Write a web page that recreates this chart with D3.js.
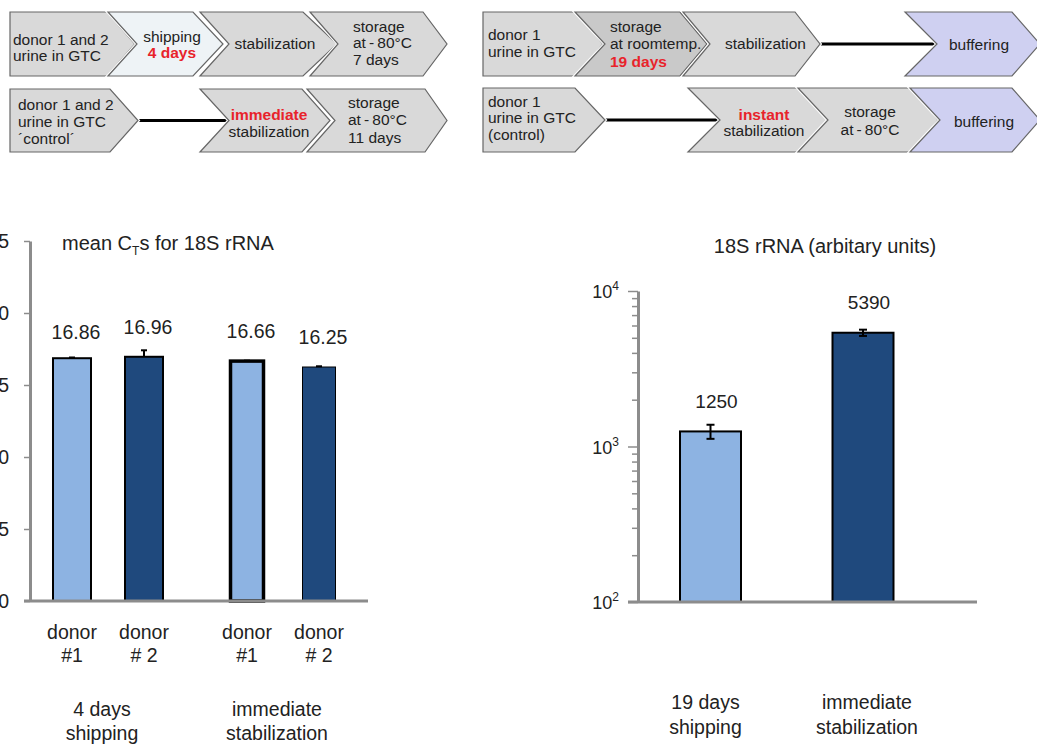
<!DOCTYPE html>
<html><head><meta charset="utf-8">
<script src="https://cdn.jsdelivr.net/npm/d3@7"></script>
<style>
body{margin:0;background:#fff;}
svg{display:block;font-family:"Liberation Sans",Arial,sans-serif;}
</style>
</head><body>
<svg id="c" width="1037" height="744"></svg>
<script>
// ================= DATA =================
// Left chart: mean Ct for 18S rRNA
const ctGroups = ["4 days shipping", "immediate stabilization"];
const ctGroupLines = [["4 days", "shipping"], ["immediate", "stabilization"]];
const ctDonors = ["donor #1", "donor # 2"];
const ctDonorLines = [["donor", "#1"], ["donor", "# 2"]];
const ctValues = [[16.86, 16.96], [16.66, 16.25]];
const ctErrors = [[0.05, 0.45], [0.03, 0.05]];
const ctTicks = [0, 5, 10, 15, 20, 25];
const ctTitle = ["mean C", "T", "s for 18S rRNA"];

// Right chart: 18S rRNA (arbitrary units), log scale
const rnaCategories = ["19 days shipping", "immediate stabilization"];
const rnaCategoryLines = [["19 days", "shipping"], ["immediate", "stabilization"]];
const rnaValues = [1250, 5390];
const rnaErrors = [130, 250];
const rnaTickExponents = [2, 3, 4];
const rnaTitle = "18S rRNA (arbitary units)";

// Flow diagram texts (each line: [text, isRed])
const flowTexts = [
  [ [["donor 1 and 2",0],["urine in GTC",0]],
    [["shipping",0],["4 days",1]],
    [["stabilization",0]],
    [["storage",0],["at\u2009-\u200980°C",0],["7 days",0]] ],
  [ [["donor 1 and 2",0],["urine in GTC",0],["´control´",0]],
    [["immediate",1],["stabilization",0]],
    [["storage",0],["at\u2009-\u200980°C",0],["11 days",0]] ],
  [ [["donor 1",0],["urine in GTC",0]],
    [["storage",0],["at roomtemp.",0],["19 days",1]],
    [["stabilization",0]],
    [["buffering",0]] ],
  [ [["donor 1",0],["urine in GTC",0],["(control)",0]],
    [["instant",1],["stabilization",0]],
    [["storage",0],["at\u2009-\u200980°C",0]],
    [["buffering",0]] ]
];

// ================= LAYOUT / STYLE =================
const GRAY = "#d9d9d9", SHIP = "#eef3f6", DARKG = "#c9c9c9", LAV = "#cfd0f1";
// chevron layout: [left, bodyRight, point, notchX or null, fill, textX, anchor, textYs]
const flowRowsLayout = [
  {top:12, bot:76, links:[], steps:[
    [10,107,135,null,GRAY,13,"start",[40,56]],
    [108,193,223,137,SHIP,172,"middle",[37,53]],
    [200,303,337,229,GRAY,275,"middle",[44]],
    [310,423,447,338,GRAY,353,"start",[27,43,60]] ]},
  {top:89, bot:152, links:[[138,229]], steps:[
    [10,110,138,null,GRAY,18,"start",[105,122,139]],
    [200,302,330,229,GRAY,269,"middle",[115,132]],
    [307,425,447,335,GRAY,348,"start",[103,120,138]] ]},
  {top:12, bot:76, links:[[820,937]], steps:[
    [483,577,603,null,GRAY,488,"start",[35,52]],
    [575,680,707,605,DARKG,610,"start",[27,44,62]],
    [683,795,820,710,GRAY,725,"start",[44]],
    [905,1012,1040,937,LAV,979,"middle",[45]] ]},
  {top:88, bot:152, links:[[605,720]], steps:[
    [483,575,605,null,GRAY,488,"start",[102,118,135]],
    [688,803,828,720,GRAY,764,"middle",[115,131]],
    [798,913,938,828,GRAY,870,"middle",[112,130]],
    [910,1012,1040,940,LAV,984,"middle",[122]] ]}
];

const svg = d3.select("#c");
const TXT = "#222";

// ================= FLOW DIAGRAM =================
flowRowsLayout.forEach((row, ri) => {
  const g = svg.append("g");
  const mid = (row.top + row.bot) / 2;
  row.links.forEach(l => {
    g.append("line").attr("x1", l[0]).attr("x2", l[1]).attr("y1", mid).attr("y2", mid)
      .attr("stroke", "#000").attr("stroke-width", 3);
  });
  row.steps.forEach((s, si) => {
    const [left, br, pt, notch, fill, tx, anchor, tys] = s;
    const pts = [[left,row.top],[br,row.top],[pt,mid],[br,row.bot],[left,row.bot]];
    if (notch !== null) pts.push([notch, mid]);
    g.append("polygon").attr("points", pts.map(p => p.join(",")).join(" "))
      .attr("fill", fill).attr("stroke", "#fff").attr("stroke-width", 3.5).attr("stroke-linejoin","miter");
    g.append("polygon").attr("points", pts.map(p => p.join(",")).join(" "))
      .attr("fill", fill).attr("stroke", "#666").attr("stroke-width", 1.2);
    const lines = flowTexts[ri][si];
    lines.forEach((ln, li) => {
      g.append("text").attr("x", tx).attr("y", tys[li]).attr("dy", "0.35em")
        .attr("text-anchor", anchor)
        .attr("font-size", 15.5)
        .attr("font-weight", ln[1] ? "bold" : "normal")
        .attr("fill", ln[1] ? "#e8232b" : TXT)
        .text(ln[0]);
    });
  });
});

// ================= LEFT CHART =================
const AXG = "#8c8c8c";
const yCt = d3.scaleLinear().domain([0, 25]).range([601, 241]);
const xGroup = d3.scalePoint().domain(ctGroups).range([108, 283]);
const xDonor = d3.scalePoint().domain(ctDonors).range([-36, 36]);
const ctBarW = [38, 33];
const ctStroke = [[2, 2], [3.5, 1]];
const ctFill = ["#8db3e2", "#1f497d"];
const ctLabelGap = [[26, 30], [30, 30]];

const left = svg.append("g");
ctGroups.forEach((gname, gi) => {
  ctDonors.forEach((dname, di) => {
    const cx = xGroup(gname) + xDonor(dname);
    const v = ctValues[gi][di], e = ctErrors[gi][di];
    const w = ctBarW[gi];
    left.append("rect").attr("x", cx - w/2).attr("y", yCt(v)).attr("width", w)
      .attr("height", yCt(0) - yCt(v)).attr("fill", ctFill[di])
      .attr("stroke", "#000").attr("stroke-width", ctStroke[gi][di]);
    left.append("line").attr("x1", cx).attr("x2", cx).attr("y1", yCt(v + e)).attr("y2", yCt(v))
      .attr("stroke", "#000").attr("stroke-width", 2);
    left.append("line").attr("x1", cx - 3).attr("x2", cx + 3).attr("y1", yCt(v + e)).attr("y2", yCt(v + e))
      .attr("stroke", "#000").attr("stroke-width", 2);
    left.append("text").attr("x", cx + 4).attr("y", yCt(v) - ctLabelGap[gi][di]).attr("dy", "0.35em")
      .attr("text-anchor", "middle").attr("font-size", 19.5).attr("fill", TXT)
      .text(v.toFixed(2));
    ctDonorLines[di].forEach((t, li) => {
      left.append("text").attr("x", cx).attr("y", 632 + li * 23).attr("dy", "0.35em")
        .attr("text-anchor", "middle").attr("font-size", 19.5).attr("fill", TXT).text(t);
    });
  });
  ctGroupLines[gi].forEach((t, li) => {
    left.append("text").attr("x", xGroup(gname) - 6).attr("y", 709 + li * 24).attr("dy", "0.35em")
      .attr("text-anchor", "middle").attr("font-size", 19.5).attr("fill", TXT).text(t);
  });
});
const ctAxis = left.append("g").attr("transform", "translate(30,0)")
  .call(d3.axisLeft(yCt).tickValues(ctTicks).tickSize(6).tickSizeOuter(0).tickPadding(15));
ctAxis.select(".domain").attr("stroke", AXG).attr("stroke-width", 3);
ctAxis.selectAll(".tick line").attr("stroke", AXG).attr("stroke-width", 1.5);
ctAxis.selectAll(".tick text").attr("font-size", 19.5).attr("fill", TXT)
  .attr("font-family", "Liberation Sans, Arial, sans-serif");
left.append("line").attr("x1", 24).attr("x2", 368).attr("y1", yCt(0)).attr("y2", yCt(0))
  .attr("stroke", AXG).attr("stroke-width", 3);
const t1 = left.append("text").attr("x", 62).attr("y", 250).attr("font-size", 20).attr("fill", TXT);
t1.append("tspan").text(ctTitle[0]);
t1.append("tspan").text(ctTitle[1]).attr("font-size", 12).attr("dy", 5);
t1.append("tspan").text(ctTitle[2]).attr("dy", -5);

// ================= RIGHT CHART =================
const yRna = d3.scaleLog().domain([100, 10000]).range([602, 291]);
const xRna = d3.scalePoint().domain(rnaCategories).range([710.5, 863]);
const rnaBarW = 61;
const rnaFill = ["#8db3e2", "#1f497d"];
const right = svg.append("g");
rnaCategories.forEach((c, i) => {
  const cx = xRna(c), v = rnaValues[i], e = rnaErrors[i];
  right.append("rect").attr("x", cx - rnaBarW/2).attr("y", yRna(v)).attr("width", rnaBarW)
    .attr("height", yRna(100) - yRna(v)).attr("fill", rnaFill[i])
    .attr("stroke", "#000").attr("stroke-width", 2);
  right.append("line").attr("x1", cx).attr("x2", cx).attr("y1", yRna(v + e)).attr("y2", yRna(v - e))
    .attr("stroke", "#000").attr("stroke-width", 2);
  [v + e, v - e].forEach(ev => {
    right.append("line").attr("x1", cx - 4).attr("x2", cx + 4).attr("y1", yRna(ev)).attr("y2", yRna(ev))
      .attr("stroke", "#000").attr("stroke-width", 2);
  });
  right.append("text").attr("x", cx + 6).attr("y", yRna(v) - 30).attr("dy", "0.35em")
    .attr("text-anchor", "middle").attr("font-size", 19).attr("fill", TXT).text(v);
  rnaCategoryLines[i].forEach((t, li) => {
    right.append("text").attr("x", cx - 5 + i * 9).attr("y", 702 + li * 25).attr("dy", "0.35em")
      .attr("text-anchor", "middle").attr("font-size", 19.5).attr("fill", TXT).text(t);
  });
});
const rnaAxisX = 638;
const rnaAxis = right.append("g").attr("transform", `translate(${rnaAxisX},0)`)
  .call(d3.axisLeft(yRna).tickValues(yRna.ticks()).tickSizeOuter(0)
    .tickSize(0).tickFormat(""));
rnaAxis.select(".domain").attr("stroke", AXG).attr("stroke-width", 3);
rnaAxis.selectAll(".tick line").each(function(d) {
  const major = rnaTickExponents.some(ex => Math.abs(d - Math.pow(10, ex)) < 1e-6);
  d3.select(this).attr("x2", major ? -10 : -6).attr("stroke", AXG).attr("stroke-width", 1.5);
});
rnaTickExponents.forEach(ex => {
  const t = right.append("text").attr("x", 619).attr("y", yRna(Math.pow(10, ex))).attr("dy", "0.4em")
    .attr("text-anchor", "end").attr("font-size", 18).attr("fill", TXT);
  t.append("tspan").text("10");
  t.append("tspan").text(ex).attr("font-size", 12).attr("dy", -8);
});
right.append("line").attr("x1", 628).attr("x2", 977).attr("y1", yRna(100)).attr("y2", yRna(100))
  .attr("stroke", AXG).attr("stroke-width", 3);
right.append("text").attr("x", 825).attr("y", 246).attr("dy", "0.35em")
  .attr("text-anchor", "middle").attr("font-size", 20).attr("fill", TXT).text(rnaTitle);
</script>
</body></html>
